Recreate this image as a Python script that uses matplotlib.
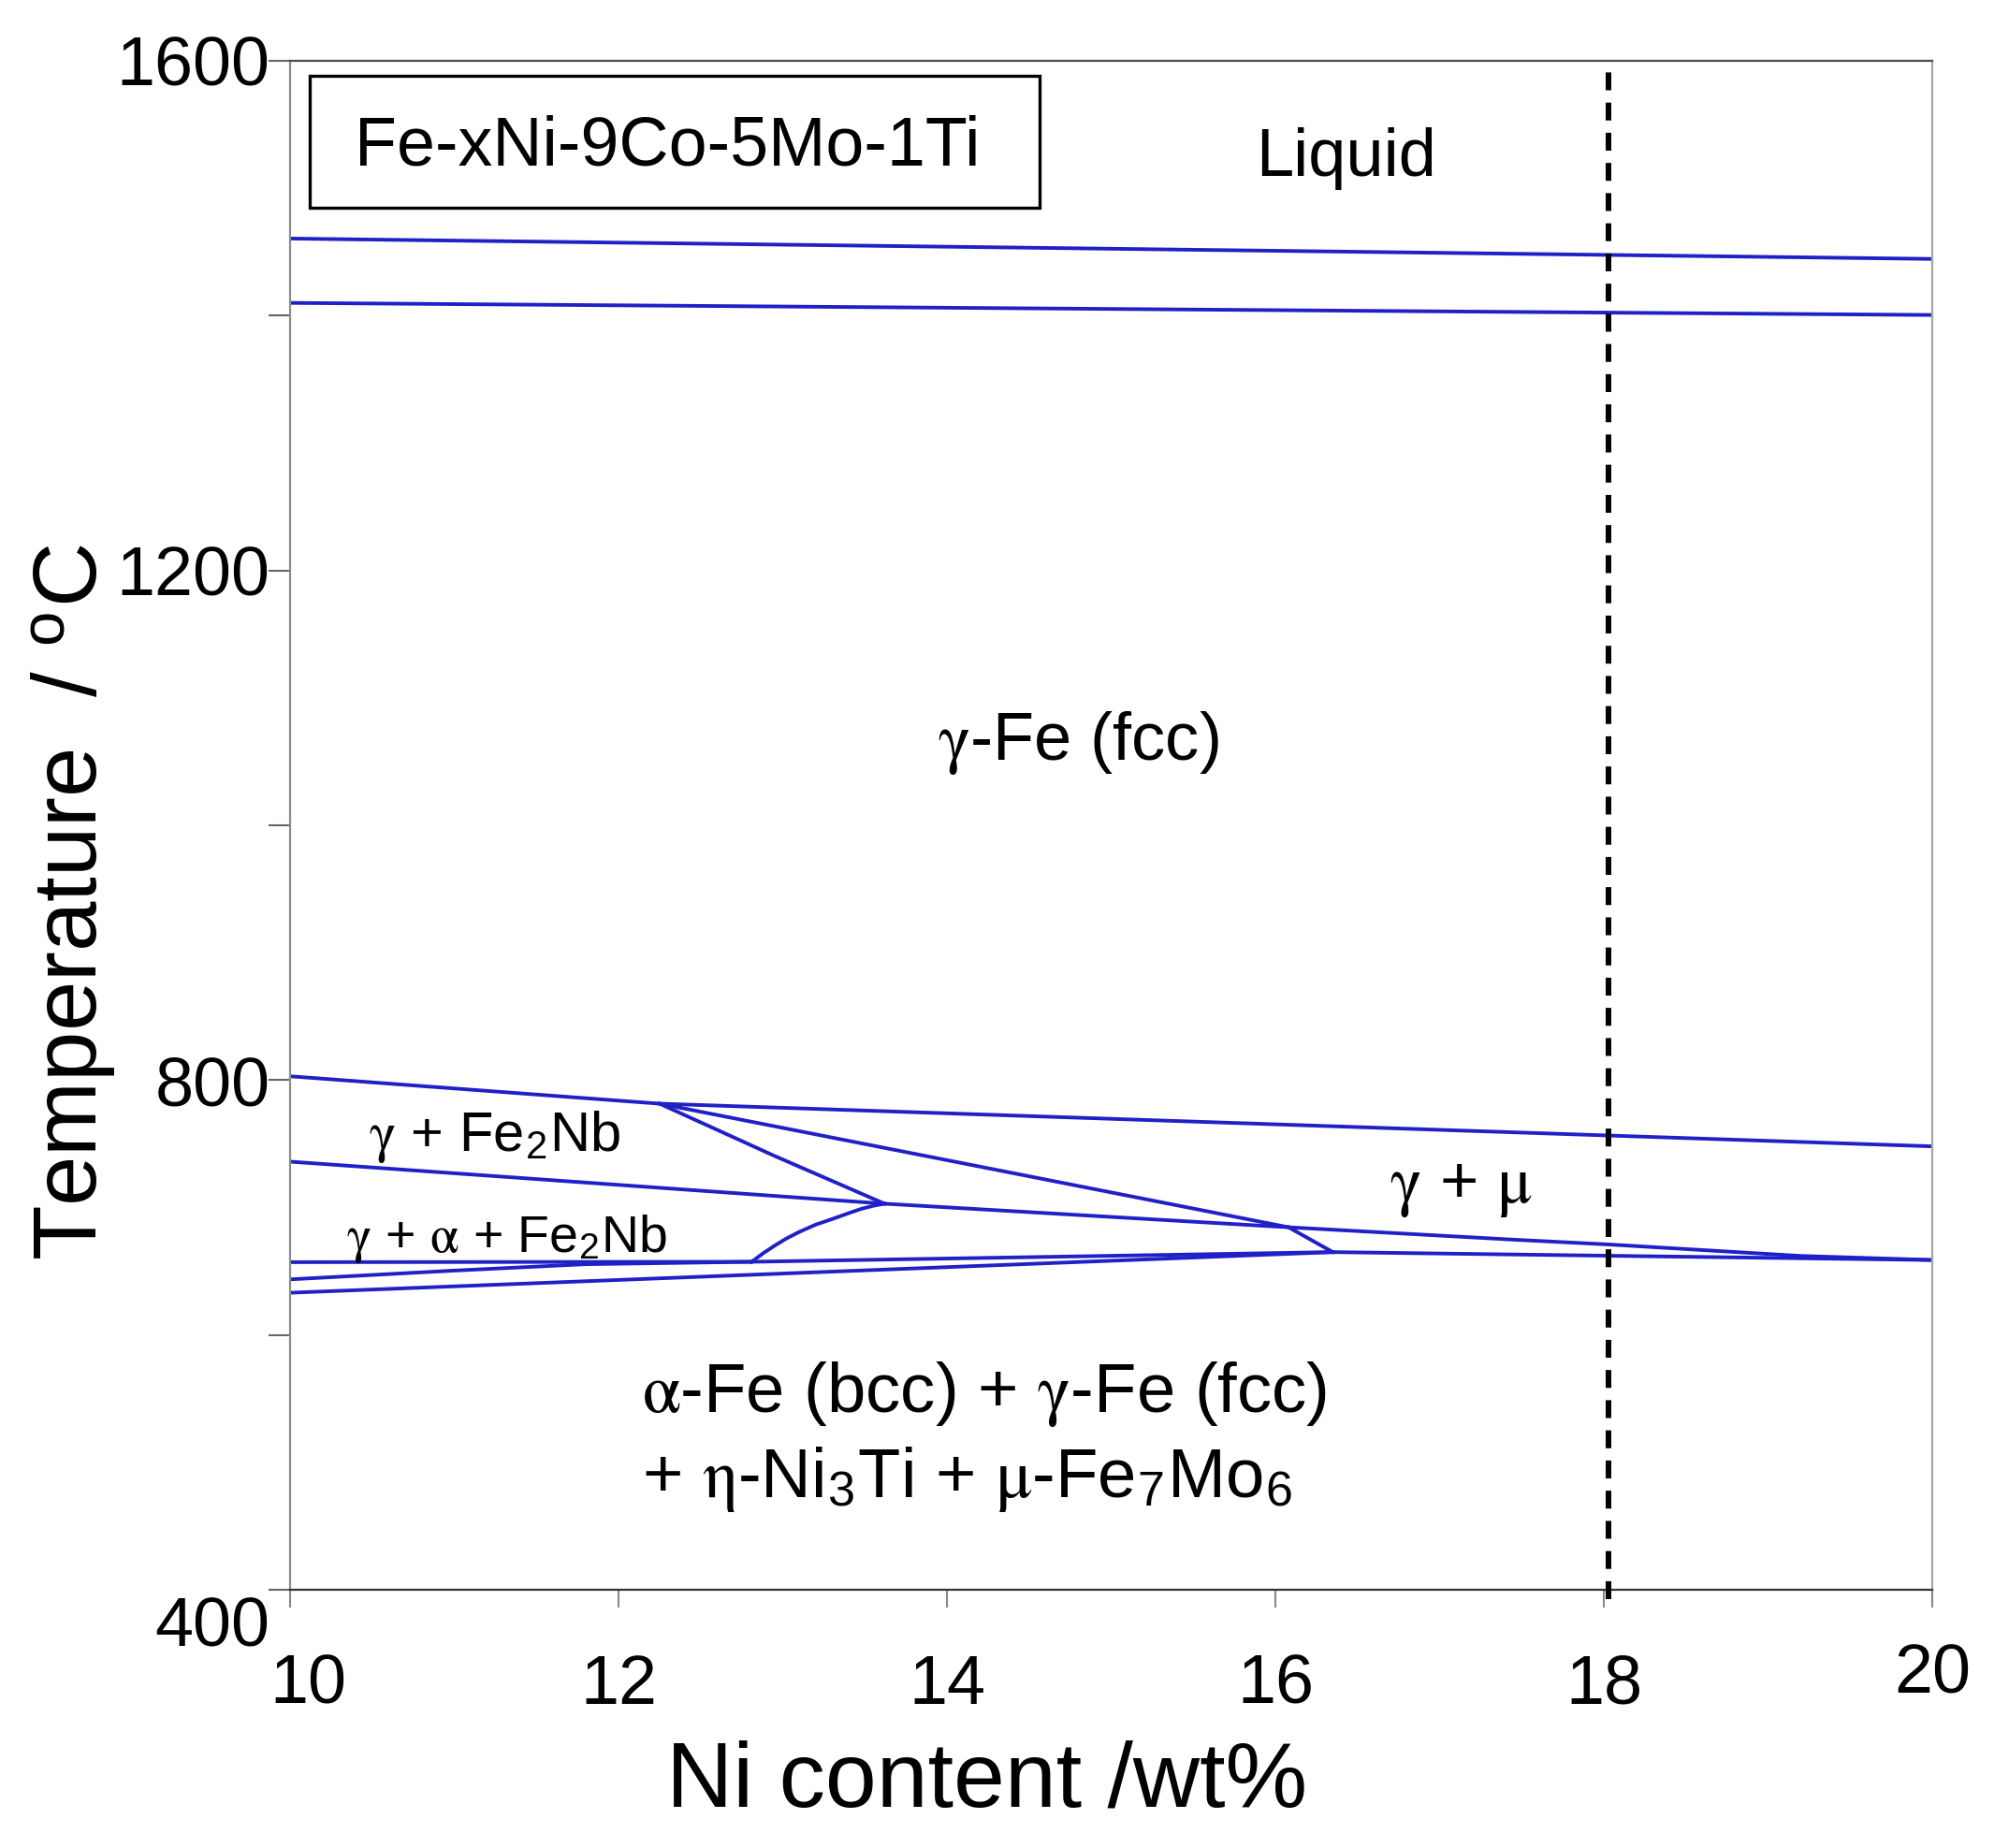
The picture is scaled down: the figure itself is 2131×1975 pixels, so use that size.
import matplotlib
matplotlib.use("Agg")
import matplotlib.pyplot as plt
import matplotlib.transforms as mtransforms
from matplotlib.patches import Rectangle

plt.rcParams['font.family'] = ['Liberation Sans', 'DejaVu Sans']
plt.rcParams['mathtext.fontset'] = 'custom'
plt.rcParams['mathtext.rm'] = 'Liberation Sans'
plt.rcParams['mathtext.it'] = 'STIXGeneral'
plt.rcParams['mathtext.bf'] = 'Liberation Sans:bold'

# phase boundaries: Ni content (wt%) and temperature (C)
liq_hi_ni = [10, 20]
liq_hi_t = [1460.5, 1444.5]
liq_lo_ni = [10, 20]
liq_lo_t = [1410.0, 1400.5]
gam_ni = [10, 12.25, 20]
gam_t = [803.0, 781.5, 748.0]
laves_ni = [10, 13.62, 16.08, 17.46, 18.03, 19.2, 20]
laves_t = [736.0, 703.0, 684.5, 674.7, 671.0, 662.0, 658.8]
diag_a_ni = [12.25, 16.08]
diag_a_t = [781.5, 684.5]
diag_b_ni = [12.25, 12.95, 13.62]
diag_b_t = [781.5, 740.5, 703.0]
arc_ni = [12.81, 12.88, 12.95, 13.02, 13.10, 13.20, 13.32, 13.40, 13.48, 13.55, 13.62]
arc_t = [657.3, 664.0, 670.0, 675.5, 680.8, 686.5, 691.8, 695.5, 699.0, 701.3, 703.0]
step_ni = [16.08, 16.35]
step_t = [684.5, 665.0]
low1_ni = [10, 12.81, 16.35, 20]
low1_t = [657.1, 657.4, 665.0, 658.8]
low2_ni = [10, 11.0, 11.8, 12.81]
low2_t = [643.6, 650.5, 655.5, 657.4]
low3_ni = [10, 16.35]
low3_t = [633.1, 665.0]
ni_alloy = 18.03

x_ticks = [10, 12, 14, 16, 18, 20]
y_ticks = [400, 600, 800, 1000, 1200, 1400, 1600]
y_ticklabels = ['400', '', '800', '', '1200', '', '1600']

curves = [
    (liq_hi_ni, liq_hi_t), (liq_lo_ni, liq_lo_t), (gam_ni, gam_t),
    (laves_ni, laves_t), (diag_a_ni, diag_a_t), (diag_b_ni, diag_b_t),
    (arc_ni, arc_t), (step_ni, step_t), (low1_ni, low1_t),
    (low2_ni, low2_t), (low3_ni, low3_t),
]

fig = plt.figure(figsize=(21.31, 19.75), dpi=100)
ax = fig.add_axes([0.14547, 0.13975, 0.82356, 0.82734])

blue = '#2020c8'
for xs, ts in curves:
    ax.plot(xs, ts, color=blue, lw=2.8, solid_joinstyle='round', zorder=2)

ax.axvline(ni_alloy, ymin=-0.006, ymax=1.0, color='black', lw=4.3,
           linestyle=(0, (3.2, 2.2)), clip_on=False, zorder=3)

ax.set_xlim(10, 20)
ax.set_ylim(400, 1600)
ax.set_xticks(x_ticks)
ax.set_xticklabels([str(v) for v in x_ticks])
ax.set_yticks(y_ticks)
ax.set_yticklabels(y_ticklabels)

ax.tick_params(axis='y', direction='out', length=16.5, width=1.5,
               color='#666666', labelsize=53, pad=-1)
ax.tick_params(axis='x', direction='out', length=13.7, width=1.5,
               color='#888888', labelsize=53, pad=35)

ax.spines['left'].set_color('#8c8c8c')
ax.spines['right'].set_color('#a6a6a6')
ax.spines['top'].set_color('#4d4d4d')
ax.spines['bottom'].set_color('#333333')
for s in ax.spines.values():
    s.set_linewidth(1.6)

# odd label placement of the original
def shift(lbl, dx, dy):
    lbl.set_transform(lbl.get_transform() +
                      mtransforms.ScaledTranslation(dx / 72, dy / 72, fig.dpi_scale_trans))

xl = ax.get_xticklabels()
shift(xl[0], 14, 0)
shift(xl[-1], 0, 8)
yl = ax.get_yticklabels()
shift(yl[0], 0, -24)

ax.set_xlabel('Ni content /wt%', fontsize=71, va='center')
ax.xaxis.set_label_coords(0.4245, -0.126)
ax.set_ylabel(r'Temperature  / $^{\mathrm{o}}$C', fontsize=69, va='center')
ax.yaxis.set_label_coords(-0.132, 0.450)

ax.add_patch(Rectangle((0.012, 0.9041), 0.4444, 0.0863, transform=ax.transAxes,
                       fill=False, edgecolor='black', lw=2.4, zorder=4))
ax.text(12.295, 1518.0, 'Fe-xNi-9Co-5Mo-1Ti', fontsize=53, ha='center', va='baseline')

g = r'$\mathit{\gamma}$'
a = r'$\mathit{\alpha}$'
m = r'$\mathit{\mu}$'
e = r'$\mathit{\eta}$'

ax.text(16.43, 1509.8, 'Liquid', fontsize=52, ha='center', va='baseline')
ax.text(14.80, 1051.4, g + '-Fe (fcc)', fontsize=52, ha='center', va='baseline')
ax.text(11.245, 744.5, g + ' + Fe$_2$Nb', fontsize=43, ha='center', va='baseline')
ax.text(11.32, 664.9, g + ' + ' + a + ' + Fe$_2$Nb', fontsize=40, ha='center', va='baseline')
ax.text(17.13, 704.4, g + ' + ' + m, fontsize=51, ha='center', va='baseline')
ax.text(12.14, 539.4, a + '-Fe (bcc) + ' + g + '-Fe (fcc)', fontsize=53.6,
        ha='left', va='baseline')
ax.text(12.14, 472.7, '+ ' + e + '-Ni$_3$Ti + ' + m + '-Fe$_7$Mo$_6$', fontsize=53.6,
        ha='left', va='baseline')

fig.savefig('out.png', dpi=100, facecolor='white')
